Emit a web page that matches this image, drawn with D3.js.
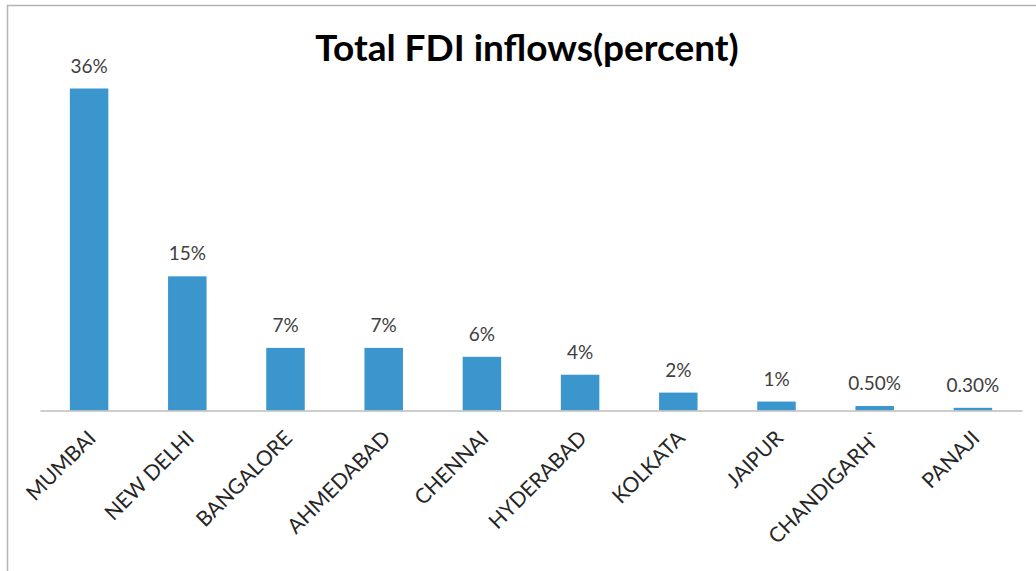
<!DOCTYPE html>
<html><head><meta charset="utf-8">
<script src="https://cdn.jsdelivr.net/npm/d3@7"></script>
<style>
html,body{margin:0;padding:0;background:#fff;}
svg{display:block;}
</style></head>
<body>
<svg id="chart" width="1036" height="571"></svg>
<script>
const categories = ["MUMBAI","NEW DELHI","BANGALORE","AHMEDABAD","CHENNAI","HYDERABAD","KOLKATA","JAIPUR","CHANDIGARH`","PANAJI"];
const values = [36, 15, 7, 7, 6, 4, 2, 1, 0.5, 0.3];
const valueLabels = ["36%","15%","7%","7%","6%","4%","2%","1%","0.50%","0.30%"];
const chartTitle = "Total FDI inflows(percent)";

(function(){
const svg = d3.select("#chart");
const W = 1036, H = 571;
const mLeft = 40, mRight = 1022, base = 410.5, mTop = 88.5;

// frame
svg.append("path").attr("d", `M7.5,${H} V5.5 H${W}`).attr("fill","none").attr("stroke","#b4b4b4").attr("stroke-width",1.5);

const x = d3.scaleBand().domain(categories).range([mLeft, mRight]).paddingInner(0.608).paddingOuter(0.304);
const y = d3.scaleLinear().domain([0, 36]).range([base, mTop]);

svg.append("g").selectAll("rect").data(values).join("rect")
  .attr("x", (d,i) => x(categories[i]))
  .attr("width", x.bandwidth())
  .attr("y", d => y(d))
  .attr("height", d => base - y(d))
  .attr("fill", "#3a96cd");

const xAxis = d3.axisBottom(x).tickSize(0).tickPadding(0);
const gx = svg.append("g").attr("transform", `translate(0,${base})`).call(xAxis);
gx.select(".domain").attr("stroke", "#bdbdbd").attr("stroke-width", 1.5);
gx.selectAll(".tick text")
  .attr("font-family", "Lato, 'Open Sans', sans-serif")
  .attr("font-size", 21)
  .attr("fill", "#262626")
  .attr("text-anchor", "end")
  .attr("dy", null).attr("y", null)
  .attr("transform", "translate(8,29) rotate(-45)");

svg.append("g").selectAll("text").data(values).join("text")
  .attr("x", (d,i) => x(categories[i]) + x.bandwidth()/2)
  .attr("y", d => y(d) - 16)
  .attr("text-anchor", "middle")
  .attr("font-family", "Lato, 'Open Sans', sans-serif")
  .attr("font-size", 19)
  .attr("fill", "#404040")
  .text((d,i) => valueLabels[i]);

svg.append("text")
  .attr("x", 527).attr("y", 61)
  .attr("text-anchor", "middle")
  .attr("font-family", "Lato, 'Open Sans', sans-serif")
  .attr("font-weight", "bold")
  .attr("font-size", 37)
  .attr("fill", "#000")
  .text(chartTitle);
})();
</script>
</body></html>
